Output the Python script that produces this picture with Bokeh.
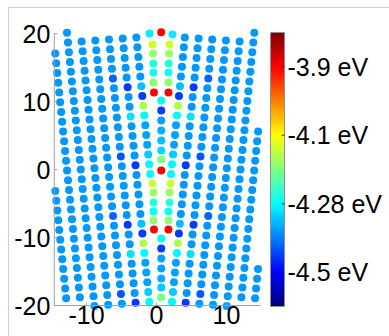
import numpy as np
from bokeh.plotting import figure
from bokeh.models import ColumnDataSource, LinearColorMapper
from bokeh.core.properties import value
from bokeh.transform import transform
from bokeh.embed import file_html
from bokeh.resources import INLINE

# ---------------- data (data units) ----------------
row_spacing = 1.434          # vertical distance between neighbouring atoms of a column
tilt = 0.098                 # sideways drift of a column per unit of y (grain rotation)
# columns of the left grain (L1..L8) and right grain (R1..R8): x where each column crosses y = 20
left_col_x20 = [-2.93, -4.90, -6.87, -8.84, -10.81, -12.78, -14.75, -16.72]
right_col_x20 = [4.11, 6.08, 8.05, 10.02, 11.99, 13.96, 15.93, 17.90]
# y of the reference row (index m = 0) in each column
col_row0 = [19.41, 19.26, 19.11, 18.96, 18.81, 18.66, 18.51, 18.36]
# sample window
x_left_edge, x_right_edge = -14.55, 14.60
y_top_edge, y_bottom_edge = 20.20, -20.10
left_gb_limit, right_gb_limit = -0.85, 2.05     # grain-boundary side limits of the grains
base_energy = -4.38                            # energy of a bulk atom (eV)

# atoms of the grains whose energy differs from the bulk value: (column, row m, eV), same on both sides
grain_overrides = [
    (1, 5, -4.35), (1, 6, -4.45), (1, 7, -4.16), (1, 8, -4.30), (1, 9, -4.37),
    (1, 10, -4.37), (1, 11, -4.37), (1, 12, -4.34), (1, 13, -4.30), (1, 14, -4.30),
    (2, 5, -4.45), (2, 8, -4.32), (2, 13, -4.45), (3, 4, -4.42), (3, 12, -4.43),
    (2, 19, -4.35), (2, 20, -4.45), (2, 21, -4.16), (2, 22, -4.30), (2, 23, -4.37),
    (2, 24, -4.37), (2, 25, -4.37), (2, 26, -4.34), (2, 27, -4.30),
    (3, 19, -4.45), (3, 22, -4.32), (3, 27, -4.45), (4, 18, -4.42), (4, 26, -4.43),
]

# atoms of the grain-boundary cores
core_top_x = [0.67, -1.00, 2.29]
core_top_y = [20.19, 20.00, 19.85]
core_top_e = [-3.90, -4.31, -4.31]

pair_e = [-4.14, -4.18, -4.27, -4.29, -4.19, -3.90]
pairA_y = [18.38, 17.06, 15.59, 14.26, 12.79, 11.32]
pairA_left_x = [-0.57, -0.50, -0.45, -0.43, -0.43, -0.36]
pairA_right_x = [1.86, 1.80, 1.75, 1.71, 1.71, 1.71]
pairB_y = [-2.06, -3.38, -4.85, -6.18, -7.50, -8.82]
pairB_left_x = [-0.57, -0.43, -0.43, -0.43, -0.43, -0.36]
pairB_right_x = [2.00, 1.86, 1.86, 1.71, 1.71, 1.71]

center_x = 0.68
seg2_y = [10.15, 8.68, 7.21, 5.74, 4.26, 2.79, 1.47, -0.15]
seg2_e = [-4.30, -4.45, -4.37, -4.36, -4.35, -4.33, -4.20, -3.90]
seg3_y = [-10.15, -11.62, -13.09, -14.56, -16.03, -17.35, -18.82]
seg3_e = [-4.30, -4.45, -4.37, -4.37, -4.36, -4.34, -4.20]

x_ticks = [-10, 0, 10]
y_ticks = [-20, -10, 0, 10, 20]
x_axis_span = (-14.6, 14.9)
y_axis_span = (-20, 20)
cb_ticks = [-3.9, -4.1, -4.3, -4.5]
cb_labels = ["-3.9 eV", "-4.1 eV", "-4.28 eV", "-4.5 eV"]
e_low, e_high = -4.6, -3.8

# ---------------- build the atom table ----------------
ov = {(k, m): e for k, m, e in grain_overrides}
xs, ys, es = [], [], []
for side, cols in (("L", left_col_x20), ("R", right_col_x20)):
    for k, x20 in enumerate(cols, start=1):
        r0 = col_row0[k - 1]
        for m in range(-3, 35):
            y = r0 - row_spacing * m
            if y > y_top_edge or y < y_bottom_edge:
                continue
            if side == "L":
                x = x20 + tilt * (20 - y)
                if x < x_left_edge or x > left_gb_limit:
                    continue
            else:
                x = x20 - tilt * (20 - y)
                if x > x_right_edge or x < right_gb_limit:
                    continue
            xs.append(x); ys.append(y); es.append(ov.get((k, m), base_energy))

xs += core_top_x; ys += core_top_y; es += core_top_e
for lx, rx, yy, ee in zip(pairA_left_x, pairA_right_x, pairA_y, pair_e):
    xs += [lx, rx]; ys += [yy, yy]; es += [ee, ee]
for lx, rx, yy, ee in zip(pairB_left_x, pairB_right_x, pairB_y, pair_e):
    xs += [lx, rx]; ys += [yy, yy]; es += [ee, ee]
for yy, ee in zip(seg2_y + seg3_y, seg2_e + seg3_e):
    xs.append(center_x); ys.append(yy); es.append(ee)

src = ColumnDataSource(dict(x=xs, y=ys, e=es))

# jet colormap
def jet(n=256):
    out = []
    for i in range(n):
        t = i / (n - 1)
        r = min(max(1.5 - abs(4 * t - 3), 0), 1)
        g = min(max(1.5 - abs(4 * t - 2), 0), 1)
        b = min(max(1.5 - abs(4 * t - 1), 0), 1)
        out.append("#%02x%02x%02x" % (int(r * 255), int(g * 255), int(b * 255)))
    return out

mapper = LinearColorMapper(palette=jet(), low=e_low, high=e_high)

# ---------------- layout (screen pixels) ----------------
W, H = 389, 336
PX_PER_X, PX_PER_Y = 7.0, 6.8        # screen scale of the axes
X0_PX, Y0_PX = 156.0, 169.0          # screen position of x = 0 and y = 0

def sx(px):   # screen x -> data x
    return (px - X0_PX) / PX_PER_X

def sy(py):   # screen y -> data y
    return (Y0_PX - py) / PX_PER_Y

FONT = value("Liberation Sans")
FS = value("25px")
AXIS_GRAY = "#a0a0a0"

p = figure(width=W, height=H, min_border=0, x_range=(sx(0), sx(W)), y_range=(sy(H), sy(0)),
           x_axis_location=None, y_axis_location=None,
           output_backend="svg", toolbar_location=None)
p.grid.visible = False
p.outline_line_color = None

# light picture border
p.segment(x0=[sx(8), sx(8)], y0=[sy(7), sy(7)], x1=[sx(W), sx(8)], y1=[sy(7), sy(H)],
          line_color="#d0d0d0", line_width=1)

# atoms
p.scatter("x", "y", source=src, size=8, fill_color=transform("e", mapper), line_color=None)

# axes (lines, inward ticks, labels)
xa0, xa1 = x_axis_span
ya0, ya1 = y_axis_span
p.segment(x0=[xa0, xa0], y0=[ya0, ya0], x1=[xa1, xa0], y1=[ya0, ya1], line_color=AXIS_GRAY, line_width=1)
tick_dx = 3 / PX_PER_X
tick_dy = 3 / PX_PER_Y
p.segment(x0=[xa0] * len(y_ticks), y0=y_ticks, x1=[xa0 + tick_dx] * len(y_ticks), y1=y_ticks,
          line_color=AXIS_GRAY)
p.segment(x0=x_ticks, y0=[ya0] * len(x_ticks), x1=x_ticks, y1=[ya0 + tick_dy] * len(x_ticks),
          line_color=AXIS_GRAY)
p.text(x=[xa0 - 4 / PX_PER_X] * len(y_ticks), y=y_ticks, text=[str(t) for t in y_ticks],
       text_font=FONT, text_font_size=FS, text_color="black",
       text_align="right", text_baseline="middle")
p.text(x=x_ticks, y=[ya0] * len(x_ticks), text=[str(t) for t in x_ticks],
       text_font=FONT, text_font_size=FS, text_color="black",
       text_align="center", text_baseline="top")

# colour bar
cb_left, cb_right = sx(270), sx(284)
cb_top, cb_bottom = sy(32), sy(306)
grad = np.linspace(e_low, e_high, 256).reshape(256, 1)
p.image(image=[grad], x=cb_left, y=cb_bottom, dw=cb_right - cb_left, dh=cb_top - cb_bottom,
        color_mapper=mapper)
p.quad(left=[cb_left], right=[cb_right], bottom=[cb_bottom], top=[cb_top],
       fill_color=None, line_color="#909090", line_width=1)
cb_y = [cb_bottom + (t - e_low) / (e_high - e_low) * (cb_top - cb_bottom) for t in cb_ticks]
p.segment(x0=[cb_right] * len(cb_y), y0=cb_y, x1=[cb_right - 3 / PX_PER_X] * len(cb_y), y1=cb_y,
          line_color="#303030")
p.text(x=[cb_right + 3 / PX_PER_X] * len(cb_y), y=cb_y, text=cb_labels,
       text_font=FONT, text_font_size=FS, text_color="black",
       text_align="left", text_baseline="middle")

open("out.html", "w").write(file_html(p, INLINE))
